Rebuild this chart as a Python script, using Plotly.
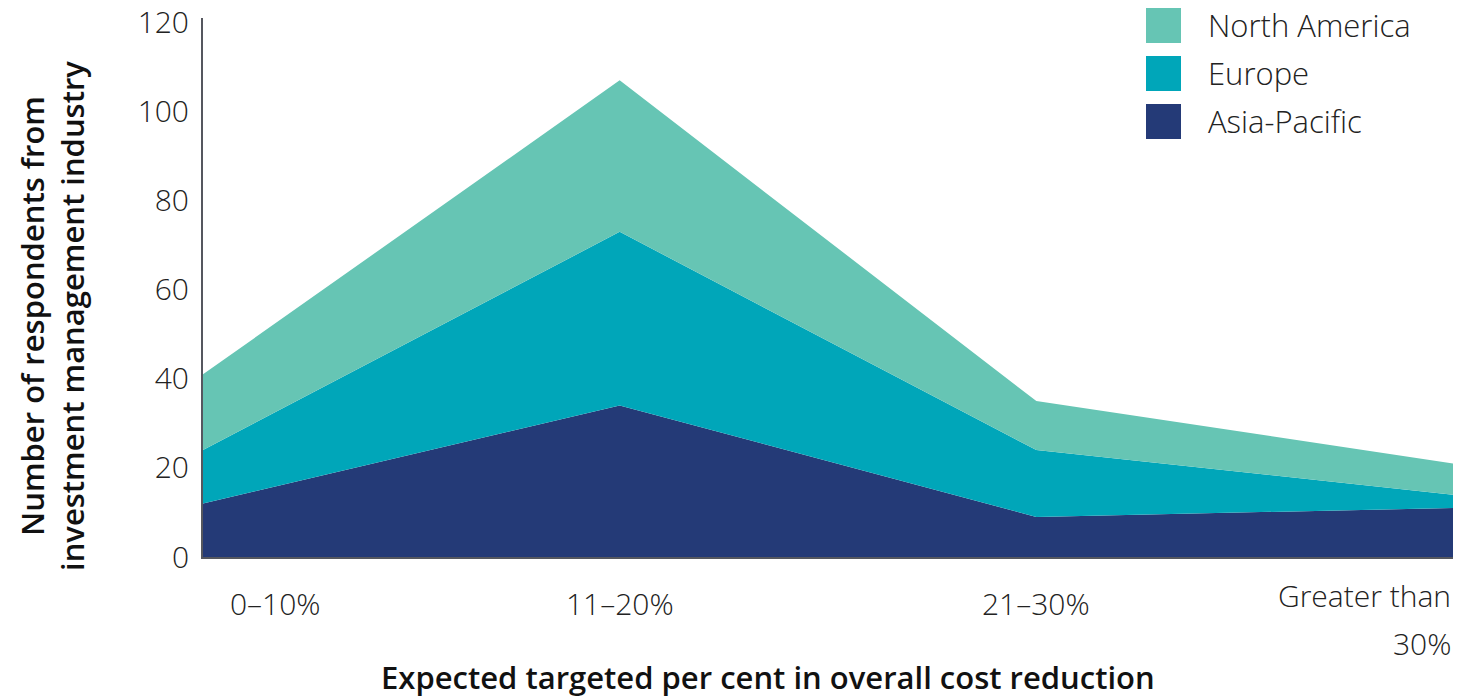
import plotly.graph_objects as go

categories = ["0–10%", "11–20%", "21–30%", "Greater than 30%"]
tick_labels = ["0–10%", "11–20%", "21–30%", "Greater than<br>30%"]
asia_pacific = [12, 34, 9, 11]
europe = [12, 39, 15, 3]
north_america = [17, 34, 11, 7]

series_names = ["North America", "Europe", "Asia-Pacific"]
colors = {"North America": "#66c5b4", "Europe": "#00a6b9", "Asia-Pacific": "#243a77"}

FONT = "Open Sans"
PLOT_TOP, PLOT_BOTTOM, PLOT_LEFT, PLOT_RIGHT = 18, 557, 203, 1453
PH = PLOT_BOTTOM - PLOT_TOP
PW = PLOT_RIGHT - PLOT_LEFT


def py(pixel_y):
    return (PLOT_BOTTOM - pixel_y) / PH


def px(pixel_x):
    return (pixel_x - PLOT_LEFT) / PW


fig = go.Figure()
for name, vals in [("Asia-Pacific", asia_pacific), ("Europe", europe), ("North America", north_america)]:
    fig.add_trace(go.Scatter(
        x=categories, y=vals, name=name, stackgroup="one", mode="lines",
        line=dict(width=0, color=colors[name]), fillcolor=colors[name],
        showlegend=False,
    ))

fig.update_layout(
    width=1470, height=697,
    margin=dict(l=PLOT_LEFT, r=1470 - PLOT_RIGHT, t=PLOT_TOP, b=697 - PLOT_BOTTOM),
    plot_bgcolor="white", paper_bgcolor="white",
    font=dict(family=FONT, color="#222222"),
    xaxis=dict(type="category", range=[0, 3], showticklabels=False, showgrid=False, automargin=False,
               showline=True, linecolor="#55575f", linewidth=2, zeroline=False, ticks=""),
    yaxis=dict(range=[0, 121], tickvals=[0, 20, 40, 60, 80, 100, 120], showgrid=False, automargin=False,
               showline=True, linecolor="#55575f", linewidth=2, zeroline=False,
               ticks="outside", ticklen=6, tickcolor="rgba(0,0,0,0)",
               tickfont=dict(family=FONT, size=30, color="#222222", weight=300)),
)

# x tick labels (each line placed separately)
anchors = ["left", "center", "center", "right"]
shifts = [25, 0, 0, 0]
for cat, lab, anc, sh in zip(categories, tick_labels, anchors, shifts):
    lines = lab.split("<br>")
    first = 603 if len(lines) == 1 else 595
    for k, line in enumerate(lines):
        fig.add_annotation(x=cat, xref="x", y=py(first + 48 * k), yref="paper",
                           text=line, showarrow=False, xanchor=anc, yanchor="middle",
                           xshift=sh,
                           font=dict(family=FONT, size=30, color="#222222", weight=300))

# axis titles
fig.add_annotation(x=px(768), xref="paper", y=py(677), yref="paper",
                   text="Expected targeted per cent in overall cost reduction", showarrow=False,
                   xanchor="center", yanchor="middle",
                   font=dict(family=FONT, size=31, color="#111111", weight=600))
fig.add_annotation(x=px(52), xref="paper", y=py(316), yref="paper",
                   text="Number of respondents from<br>investment management industry",
                   showarrow=False, textangle=-90, xanchor="center", yanchor="middle",
                   font=dict(family=FONT, size=31, color="#111111", weight=600))

# legend
for i, name in enumerate(series_names):
    top = 8 + 48 * i
    fig.add_shape(type="rect", xref="paper", yref="paper",
                  x0=px(1146), x1=px(1181), y0=py(top), y1=py(top + 35),
                  fillcolor=colors[name], line=dict(width=0))
    fig.add_annotation(x=px(1206), xref="paper", y=py(top + 17.5), yref="paper",
                       text=name, showarrow=False, xanchor="left", yanchor="middle",
                       font=dict(family=FONT, size=31, color="#222222", weight=300))

fig.write_html("out.html")
